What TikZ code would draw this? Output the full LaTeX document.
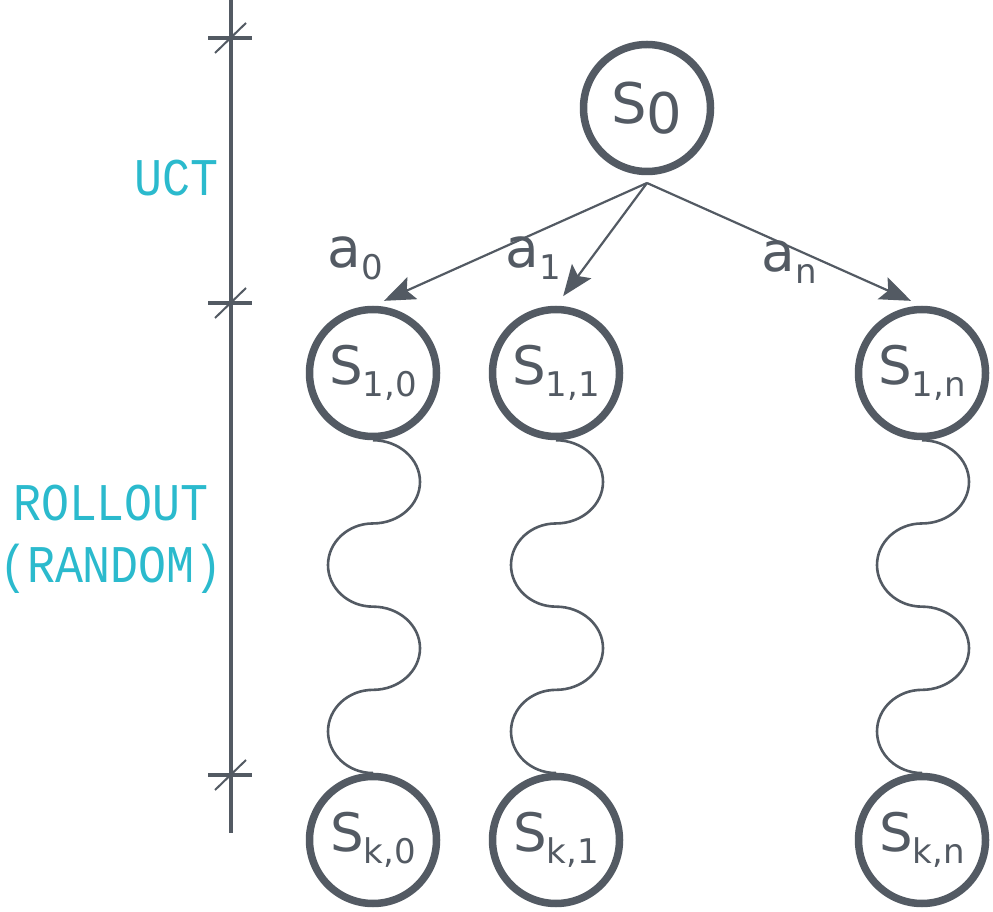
\documentclass[tikz,border=0pt]{standalone}
\usepackage{fontspec}
\setmainfont{DejaVu Sans}
\newfontfamily\monofont[FakeStretch=0.88]{Liberation Mono}
\usetikzlibrary{arrows.meta}
\definecolor{slate}{RGB}{83,90,99}
\definecolor{tealtext}{RGB}{43,186,205}
\newcommand{\st}[2]{#1\raisebox{-12pt}{\fontsize{34}{40}\selectfont #2}}
\begin{document}
\begin{tikzpicture}[
    x=1pt, y=1pt,
    state/.style={circle, draw=slate, line width=7.5pt, minimum size=127pt, inner sep=0pt, text=slate, font=\fontsize{53}{60}\selectfont},
    arrow/.style={-{Stealth[length=31pt, width=24pt, inset=6pt]}, draw=slate, line width=2.2pt, shorten >=12pt},
    wave/.style={draw=slate, line width=2.6pt},
    act/.style={text=slate, font=\fontsize{55}{60}\selectfont},
    phase/.style={text=tealtext, font=\monofont\fontsize{53}{62}\selectfont, align=center},
    axis/.style={draw=slate, line width=4pt},
    slash/.style={draw=slate, line width=2pt}
]
    \useasboundingbox (0,0) rectangle (993,911);

    % Root
    \node[state, font=\fontsize{56}{60}\selectfont] (s0) at (647,803) {S\raisebox{-10pt}{0}};

    % First level
    \node[state] (s10) at (373,538) {\st{S}{1,0}};
    \node[state] (s11) at (556,538) {\st{S}{1,1}};
    \node[state] (s1n) at (922,538) {\st{S}{1,n}};

    % Leaves
    \node[state] (sk0) at (373,71) {\st{S}{k,0}};
    \node[state] (sk1) at (556,71) {\st{S}{k,1}};
    \node[state] (skn) at (922,71) {\st{S}{k,n}};

    % Actions
    \coordinate (fork) at (647,728);
    \draw[arrow] (fork) -- (s10.north);
    \draw[arrow] (fork) -- (s11.north);
    \draw[arrow] (fork) -- (s1n.north);
    \node[act] (a0) at (355,653) {\st{a}{0}};
    \node[act] (a1) at (533,653) {\st{a}{1}};
    \node[act] (an) at (789,649) {\st{a}{n}};

    % Rollouts
    \draw[wave] (s10.south)
        arc[start angle=90, end angle=-90, x radius=47pt, y radius=41.6pt]
        arc[start angle=90, end angle=270, x radius=45pt, y radius=41.6pt]
        arc[start angle=90, end angle=-90, x radius=47pt, y radius=41.6pt]
        arc[start angle=90, end angle=270, x radius=45pt, y radius=41.6pt] -- (sk0.north);
    \draw[wave] (s11.south)
        arc[start angle=90, end angle=-90, x radius=47pt, y radius=41.6pt]
        arc[start angle=90, end angle=270, x radius=45pt, y radius=41.6pt]
        arc[start angle=90, end angle=-90, x radius=47pt, y radius=41.6pt]
        arc[start angle=90, end angle=270, x radius=45pt, y radius=41.6pt] -- (sk1.north);
    \draw[wave] (s1n.south)
        arc[start angle=90, end angle=-90, x radius=47pt, y radius=41.6pt]
        arc[start angle=90, end angle=270, x radius=45pt, y radius=41.6pt]
        arc[start angle=90, end angle=-90, x radius=47pt, y radius=41.6pt]
        arc[start angle=90, end angle=270, x radius=45pt, y radius=41.6pt] -- (skn.north);

    % Axis
    \draw[axis] (231,911) -- (231,78);
    \draw[axis] (208,873) -- (252,873);
    \draw[slash] (215,858) -- (246,888);
    \draw[axis] (208,608) -- (252,608);
    \draw[slash] (215,593) -- (246,623);
    \draw[axis] (208,136) -- (252,136);
    \draw[slash] (215,121) -- (246,151);

    % Phases
    \node[phase, anchor=east] (uct) at (222,733) {UCT};
    \node[phase] (rollout) at (111,372) {ROLLOUT\\(RANDOM)};
\end{tikzpicture}
\end{document}
